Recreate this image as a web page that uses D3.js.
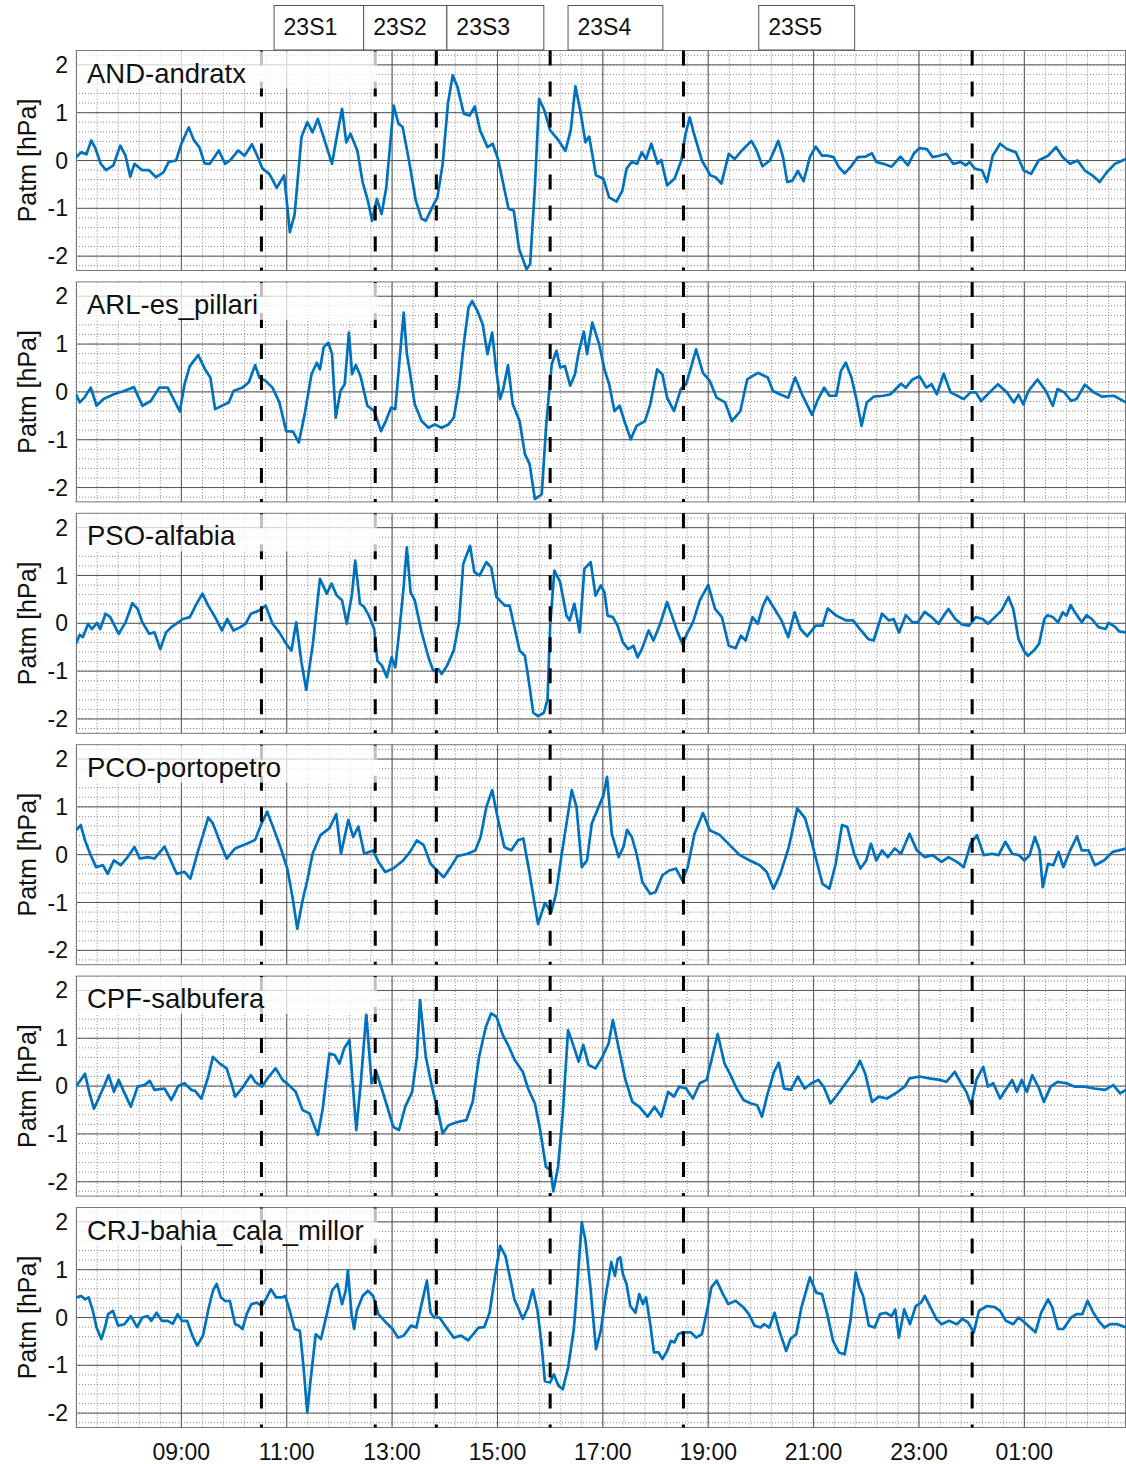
<!DOCTYPE html>
<html>
<head>
<meta charset="utf-8">
<script src="https://cdnjs.cloudflare.com/ajax/libs/d3/7.8.5/d3.min.js"></script>
<style>
	body { margin: 0; background: #fff; }
	text { font-family: 'Liberation Sans', Arial, sans-serif; fill: #111; }
</style>
</head>
<body>
<div id="chart"></div>
<script>
// station names, one panel each
var stations = ['AND-andratx', 'ARL-es_pillari', 'PSO-alfabia', 'PCO-portopetro', 'CPF-salbufera', 'CRJ-bahia_cala_millor'];

// [hour of day (24+ = next day), Patm anomaly hPa]
var andratx = [[7.0,0.07],[7.1,0.17],[7.2,0.13],[7.29,0.42],[7.37,0.25],[7.47,-0.07],[7.57,-0.2],[7.71,-0.1],[7.84,0.31],[7.94,0.1],[8.03,-0.34],[8.11,-0.07],[8.25,-0.2],[8.38,-0.2],[8.52,-0.35],[8.66,-0.25],[8.76,-0.03],[8.9,0],[9.0,0.35],[9.14,0.69],[9.24,0.42],[9.34,0.28],[9.44,-0.06],[9.54,-0.07],[9.71,0.21],[9.83,-0.07],[9.93,0.01],[10.08,0.21],[10.2,0.1],[10.34,0.34],[10.44,0.1],[10.54,-0.17],[10.67,-0.28],[10.81,-0.57],[10.95,-0.31],[11.06,-1.5],[11.15,-1.12],[11.28,0.49],[11.39,0.8],[11.49,0.59],[11.59,0.87],[11.69,0.52],[11.86,-0.07],[11.96,0.56],[12.05,1.08],[12.13,0.38],[12.21,0.56],[12.34,0.21],[12.44,-0.45],[12.54,-0.84],[12.62,-1.26],[12.71,-0.8],[12.8,-1.12],[12.89,-0.56],[13.03,1.15],[13.12,0.77],[13.2,0.7],[13.32,0],[13.45,-0.84],[13.56,-1.22],[13.64,-1.26],[13.76,-0.98],[13.86,-0.77],[13.96,-0.07],[14.06,1.19],[14.15,1.78],[14.24,1.54],[14.36,0.98],[14.47,0.94],[14.57,1.13],[14.67,0.63],[14.81,0.28],[14.91,0.35],[15.01,0.03],[15.21,-1.01],[15.31,-1.05],[15.41,-1.85],[15.55,-2.27],[15.62,-2.17],[15.71,-0.56],[15.79,1.29],[15.89,1.05],[16.0,0.63],[16.16,0.42],[16.29,0.2],[16.39,0.63],[16.48,1.55],[16.57,1.05],[16.67,0.38],[16.74,0.5],[16.87,-0.31],[17.01,-0.38],[17.12,-0.77],[17.26,-0.86],[17.37,-0.63],[17.45,-0.17],[17.55,-0.03],[17.65,-0.07],[17.74,0.17],[17.82,0.03],[17.92,0.35],[18.04,-0.07],[18.11,0.01],[18.22,-0.52],[18.36,-0.38],[18.49,0],[18.57,0.56],[18.65,0.9],[18.73,0.56],[18.88,0],[19.04,-0.31],[19.14,-0.35],[19.25,-0.48],[19.39,0.14],[19.5,0.03],[19.64,0.21],[19.82,0.41],[19.92,0.21],[20.03,-0.12],[20.17,0],[20.33,0.41],[20.42,0.07],[20.5,-0.45],[20.6,-0.42],[20.7,-0.22],[20.81,-0.43],[20.93,0.07],[21.04,0.29],[21.16,0.1],[21.27,0.1],[21.38,0.07],[21.48,-0.14],[21.59,-0.27],[21.7,-0.14],[21.84,0.07],[21.98,0.08],[22.11,0.15],[22.19,-0.03],[22.33,-0.07],[22.48,-0.13],[22.65,0.08],[22.79,-0.1],[22.9,0.14],[23.01,0.26],[23.15,0.24],[23.26,0.07],[23.38,0.1],[23.52,0.14],[23.65,-0.07],[23.79,-0.03],[23.89,-0.1],[23.96,-0.03],[24.06,-0.17],[24.2,-0.21],[24.29,-0.45],[24.4,0.1],[24.54,0.35],[24.67,0.24],[24.84,0.17],[24.99,-0.21],[25.13,-0.28],[25.27,0],[25.45,0.1],[25.6,0.28],[25.73,0.07],[25.87,-0.07],[26.01,0],[26.15,-0.21],[26.29,-0.31],[26.43,-0.45],[26.57,-0.24],[26.72,-0.07],[26.93,0.03]];

var pillari = [[7.0,-0.05],[7.07,-0.22],[7.16,-0.12],[7.28,0.09],[7.39,-0.29],[7.52,-0.15],[7.72,-0.05],[7.91,0.02],[8.1,0.1],[8.26,-0.29],[8.42,-0.19],[8.58,0.09],[8.74,0.09],[8.87,-0.19],[8.97,-0.41],[9.06,0.16],[9.16,0.54],[9.32,0.77],[9.45,0.47],[9.55,0.3],[9.64,-0.36],[9.77,-0.29],[9.9,-0.22],[9.99,0.02],[10.16,0.09],[10.28,0.2],[10.4,0.56],[10.48,0.3],[10.6,0.23],[10.73,0.09],[10.86,-0.22],[10.99,-0.82],[11.12,-0.83],[11.23,-1.06],[11.34,-0.47],[11.47,0.37],[11.57,0.61],[11.63,0.47],[11.7,0.93],[11.79,1.03],[11.86,0.79],[11.93,-0.54],[12.02,0.02],[12.1,0.16],[12.18,1.24],[12.24,0.37],[12.31,0.56],[12.4,0.33],[12.53,-0.29],[12.66,-0.4],[12.79,-0.82],[12.88,-0.61],[12.98,-0.33],[13.06,-0.36],[13.14,0.65],[13.22,1.66],[13.28,0.79],[13.33,0.47],[13.43,-0.26],[13.56,-0.61],[13.69,-0.75],[13.81,-0.68],[13.94,-0.75],[14.07,-0.68],[14.17,-0.54],[14.27,0.09],[14.36,1.0],[14.45,1.76],[14.52,1.9],[14.62,1.69],[14.72,1.41],[14.81,0.79],[14.9,1.24],[14.97,0.51],[15.05,-0.15],[15.11,0.06],[15.2,0.56],[15.29,-0.26],[15.42,-0.61],[15.52,-1.3],[15.61,-1.51],[15.71,-2.24],[15.84,-2.14],[15.93,-0.61],[16.03,0.58],[16.12,0.86],[16.19,0.51],[16.28,0.54],[16.38,0.13],[16.47,0.37],[16.54,0.82],[16.64,1.26],[16.7,0.79],[16.8,1.45],[16.93,1.0],[17.03,0.47],[17.12,0.16],[17.22,-0.4],[17.32,-0.29],[17.41,-0.61],[17.53,-0.99],[17.64,-0.71],[17.8,-0.61],[17.9,-0.26],[18.03,0.47],[18.13,0.37],[18.22,-0.12],[18.35,-0.4],[18.48,0.06],[18.58,0.16],[18.68,0.54],[18.77,0.89],[18.9,0.4],[19.03,0.23],[19.16,-0.12],[19.32,-0.22],[19.45,-0.61],[19.61,-0.4],[19.74,0.26],[19.94,0.4],[20.13,0.3],[20.23,0.02],[20.36,-0.05],[20.52,-0.12],[20.65,0.3],[20.78,-0.05],[20.97,-0.48],[21.07,-0.19],[21.2,0.09],[21.3,-0.08],[21.43,-0.08],[21.52,0.44],[21.61,0.61],[21.72,0.3],[21.82,-0.19],[21.91,-0.71],[22.01,-0.22],[22.14,-0.1],[22.33,-0.08],[22.46,-0.05],[22.66,0.17],[22.75,0.09],[22.88,0.26],[23.01,0.33],[23.14,0.09],[23.24,0.16],[23.34,-0.05],[23.47,0.38],[23.6,-0.01],[23.73,-0.08],[23.85,-0.15],[23.98,-0.01],[24.08,-0.01],[24.18,-0.19],[24.34,-0.01],[24.5,0.16],[24.67,-0.01],[24.8,-0.22],[24.89,-0.06],[24.98,-0.26],[25.08,0.02],[25.25,0.26],[25.41,0.02],[25.54,-0.29],[25.63,0.06],[25.76,-0.01],[25.89,-0.19],[25.99,-0.15],[26.15,0.15],[26.32,-0.01],[26.48,-0.1],[26.7,-0.08],[26.93,-0.22]];

var alfabia = [[7.0,-0.43],[7.07,-0.24],[7.13,-0.29],[7.23,-0.01],[7.3,-0.12],[7.4,0.01],[7.46,-0.12],[7.56,0.2],[7.65,0.13],[7.81,-0.22],[7.94,0.02],[8.07,0.42],[8.17,0.3],[8.26,0.02],[8.39,-0.22],[8.49,-0.19],[8.6,-0.54],[8.71,-0.19],[8.81,-0.08],[8.9,-0.01],[9.03,0.09],[9.16,0.13],[9.29,0.41],[9.4,0.62],[9.51,0.37],[9.64,0.13],[9.77,-0.15],[9.87,0.09],[9.99,-0.15],[10.12,-0.08],[10.22,-0.01],[10.32,0.2],[10.48,0.27],[10.6,0.37],[10.73,-0.01],[10.86,-0.19],[10.99,-0.43],[11.09,-0.57],[11.18,0.02],[11.28,-0.82],[11.37,-1.39],[11.5,-0.4],[11.63,0.93],[11.76,0.62],[11.85,0.83],[11.95,0.58],[12.05,0.48],[12.14,-0.01],[12.24,0.62],[12.3,1.31],[12.39,0.41],[12.47,0.34],[12.56,0.16],[12.66,-0.12],[12.72,-0.78],[12.81,-0.89],[12.9,-1.13],[12.99,-0.71],[13.06,-0.92],[13.14,-0.12],[13.21,0.65],[13.28,1.59],[13.35,0.65],[13.43,0.48],[13.56,-0.19],[13.69,-0.71],[13.78,-0.99],[13.88,-0.96],[13.94,-1.06],[14.04,-0.89],[14.17,-0.57],[14.27,0.02],[14.35,1.24],[14.48,1.62],[14.56,1.07],[14.66,1.0],[14.79,1.28],[14.88,1.17],[14.98,0.55],[15.14,0.37],[15.23,0.37],[15.33,-0.12],[15.42,-0.57],[15.52,-0.68],[15.58,-1.1],[15.68,-1.87],[15.77,-1.94],[15.88,-1.87],[15.95,-1.59],[16.0,-0.05],[16.08,1.1],[16.19,0.86],[16.31,0.16],[16.37,0.06],[16.46,0.41],[16.56,-0.19],[16.65,1.14],[16.77,1.28],[16.86,0.58],[16.96,0.79],[17.03,0.65],[17.09,0.16],[17.19,0.13],[17.28,-0.05],[17.38,-0.4],[17.48,-0.54],[17.58,-0.47],[17.66,-0.71],[17.74,-0.54],[17.87,-0.15],[17.96,-0.36],[18.09,-0.01],[18.22,0.44],[18.32,0.13],[18.42,-0.19],[18.51,-0.43],[18.61,-0.19],[18.71,0.02],[18.84,0.48],[19.0,0.8],[19.13,0.3],[19.26,0.13],[19.39,-0.47],[19.52,-0.52],[19.62,-0.26],[19.71,-0.36],[19.84,0.13],[19.94,-0.01],[20.04,0.37],[20.12,0.55],[20.26,0.3],[20.39,0.06],[20.52,-0.29],[20.64,0.23],[20.75,-0.12],[20.88,-0.27],[21.04,-0.05],[21.17,-0.05],[21.27,0.31],[21.43,0.16],[21.62,0.06],[21.75,0.06],[21.88,-0.12],[22.04,-0.33],[22.14,-0.36],[22.3,0.2],[22.43,0.06],[22.52,0.09],[22.62,-0.19],[22.75,0.17],[22.88,0.02],[22.98,0.02],[23.11,0.24],[23.24,0.13],[23.37,-0.01],[23.47,0.16],[23.56,0.3],[23.69,0.09],[23.82,-0.03],[23.95,-0.05],[24.08,0.13],[24.21,0.09],[24.31,-0.01],[24.47,0.16],[24.57,0.27],[24.7,0.55],[24.79,0.3],[24.89,-0.33],[24.99,-0.57],[25.07,-0.68],[25.18,-0.57],[25.28,-0.43],[25.38,0.09],[25.44,0.17],[25.54,0.13],[25.64,0.02],[25.73,0.23],[25.8,0.16],[25.88,0.38],[25.96,0.23],[26.09,0.02],[26.18,0.17],[26.28,0.09],[26.41,-0.08],[26.54,-0.12],[26.6,0.01],[26.73,-0.08],[26.8,-0.17],[26.93,-0.19]];

var portopetro = [[7.0,0.51],[7.09,0.62],[7.17,0.3],[7.28,-0.01],[7.38,-0.26],[7.51,-0.22],[7.6,-0.4],[7.72,-0.12],[7.85,-0.22],[7.98,-0.05],[8.11,0.16],[8.21,-0.08],[8.36,-0.05],[8.49,-0.08],[8.68,0.17],[8.81,-0.15],[8.91,-0.4],[9.06,-0.36],[9.17,-0.5],[9.32,0.09],[9.41,0.41],[9.51,0.78],[9.6,0.65],[9.73,0.27],[9.86,-0.08],[10.02,0.13],[10.24,0.23],[10.4,0.31],[10.51,0.62],[10.63,0.9],[10.75,0.55],[10.88,0.16],[11.01,-0.29],[11.11,-0.89],[11.2,-1.55],[11.3,-0.96],[11.39,-0.54],[11.49,0.02],[11.64,0.41],[11.81,0.55],[11.94,0.85],[12.03,0.02],[12.17,0.73],[12.26,0.37],[12.36,0.59],[12.47,0.02],[12.64,0.09],[12.74,-0.15],[12.87,-0.36],[13.02,-0.29],[13.21,-0.12],[13.34,0.06],[13.47,0.3],[13.6,0.2],[13.73,-0.19],[13.85,-0.33],[13.98,-0.47],[14.11,-0.26],[14.24,-0.03],[14.43,0.02],[14.58,0.09],[14.68,0.37],[14.79,1.0],[14.9,1.35],[15.0,0.79],[15.13,0.16],[15.26,0.09],[15.39,0.3],[15.49,0.34],[15.6,-0.33],[15.71,-1.06],[15.77,-1.45],[15.9,-1.01],[16.02,-1.2],[16.11,-0.82],[16.22,0.02],[16.31,0.65],[16.41,1.35],[16.5,1.0],[16.6,-0.26],[16.7,-0.12],[16.79,0.65],[16.92,1.0],[17.01,1.24],[17.08,1.63],[17.17,0.44],[17.3,-0.05],[17.39,0.16],[17.46,0.52],[17.55,0.37],[17.64,0.02],[17.75,-0.57],[17.9,-0.82],[18.0,-0.78],[18.13,-0.43],[18.26,-0.33],[18.39,-0.29],[18.51,-0.54],[18.61,-0.26],[18.74,0.44],[18.9,0.87],[19.03,0.51],[19.22,0.41],[19.41,0.2],[19.6,-0.01],[19.79,-0.12],[19.98,-0.22],[20.11,-0.36],[20.24,-0.71],[20.37,-0.4],[20.53,0.16],[20.69,0.97],[20.84,0.76],[20.94,0.37],[21.07,-0.19],[21.17,-0.61],[21.3,-0.71],[21.42,-0.19],[21.54,0.62],[21.64,0.58],[21.77,0.02],[21.89,-0.29],[22.0,-0.12],[22.09,0.23],[22.19,-0.12],[22.3,0.09],[22.41,-0.05],[22.54,0.13],[22.66,0.02],[22.82,0.44],[22.96,0.09],[23.11,-0.05],[23.26,-0.01],[23.43,-0.15],[23.56,-0.05],[23.72,-0.15],[23.85,-0.26],[23.98,0.23],[24.1,0.41],[24.23,-0.01],[24.39,0.02],[24.51,-0.01],[24.64,0.27],[24.77,0.02],[24.9,-0.01],[25.0,-0.12],[25.1,-0.01],[25.2,0.37],[25.29,0.09],[25.35,-0.68],[25.45,-0.19],[25.55,-0.22],[25.65,0.06],[25.74,-0.26],[25.87,0.09],[26.0,0.38],[26.09,0.09],[26.22,0.09],[26.34,-0.22],[26.51,-0.12],[26.68,0.06],[26.93,0.13]];

var salbufera = [[7.0,-0.01],[7.09,0.13],[7.17,0.26],[7.25,-0.12],[7.34,-0.47],[7.43,-0.26],[7.53,-0.01],[7.62,0.23],[7.72,-0.12],[7.81,0.13],[7.91,-0.12],[8.04,-0.43],[8.17,-0.01],[8.3,0.02],[8.4,0.11],[8.49,-0.08],[8.68,-0.05],[8.81,-0.29],[8.94,0],[9.06,0.06],[9.19,-0.08],[9.26,-0.1],[9.38,-0.26],[9.51,0.2],[9.6,0.61],[9.73,0.47],[9.86,0.37],[9.96,0.02],[10.02,-0.22],[10.15,-0.05],[10.32,0.23],[10.4,0.09],[10.53,-0.01],[10.66,0.2],[10.79,0.37],[10.92,0.13],[11.04,0.02],[11.17,-0.12],[11.3,-0.5],[11.43,-0.57],[11.59,-1.02],[11.68,-0.5],[11.81,0.68],[11.91,0.65],[12.0,0.47],[12.09,0.79],[12.19,0.96],[12.32,-0.92],[12.41,0.13],[12.51,1.52],[12.61,0.06],[12.7,0.3],[12.81,-0.08],[12.9,-0.4],[13.02,-0.85],[13.13,-0.92],[13.25,-0.43],[13.38,-0.12],[13.47,0.61],[13.53,1.8],[13.64,0.61],[13.77,-0.08],[13.86,-0.47],[13.96,-0.99],[14.07,-0.82],[14.24,-0.75],[14.41,-0.71],[14.53,-0.33],[14.65,0.61],[14.78,1.24],[14.88,1.52],[14.98,1.45],[15.1,1.07],[15.2,0.86],[15.33,0.54],[15.48,0.3],[15.58,-0.05],[15.71,-0.36],[15.81,-0.92],[15.92,-1.69],[16.01,-1.76],[16.06,-2.2],[16.15,-1.69],[16.24,-0.57],[16.34,1.17],[16.45,0.82],[16.54,0.51],[16.63,0.86],[16.73,0.44],[16.86,0.37],[16.99,0.61],[17.11,0.89],[17.19,1.38],[17.31,0.75],[17.43,0.13],[17.56,-0.33],[17.69,-0.43],[17.85,-0.64],[17.98,-0.43],[18.11,-0.64],[18.24,-0.12],[18.35,-0.22],[18.45,-0.01],[18.58,-0.05],[18.71,-0.26],[18.84,0.06],[18.97,0.13],[19.07,0.58],[19.18,1.09],[19.31,0.47],[19.41,0.26],[19.54,-0.05],[19.67,-0.29],[19.8,-0.36],[19.93,-0.4],[20.02,-0.64],[20.12,-0.19],[20.25,0.3],[20.34,0.49],[20.44,-0.05],[20.57,-0.08],[20.7,0.2],[20.83,-0.05],[20.96,0.06],[21.09,0.13],[21.19,-0.01],[21.32,-0.36],[21.47,-0.15],[21.63,0.09],[21.79,0.33],[21.88,0.53],[21.98,0.26],[22.11,-0.33],[22.24,-0.22],[22.39,-0.26],[22.56,-0.15],[22.73,-0.01],[22.82,0.16],[23.01,0.2],[23.2,0.16],[23.39,0.13],[23.52,0.09],[23.68,0.3],[23.8,0.06],[23.9,-0.12],[23.99,-0.4],[24.09,0.13],[24.22,0.4],[24.31,-0.01],[24.41,0.06],[24.54,-0.26],[24.66,-0.05],[24.77,0.13],[24.86,-0.12],[24.95,0.13],[25.05,-0.12],[25.15,0.23],[25.28,-0.05],[25.37,-0.33],[25.5,-0.01],[25.63,0.09],[25.8,0.06],[25.95,-0.01],[26.14,-0.01],[26.33,-0.05],[26.53,-0.08],[26.69,0.02],[26.82,-0.15],[26.93,-0.08]];

var calaMillor = [[7.0,0.42],[7.1,0.45],[7.17,0.38],[7.24,0.42],[7.32,0.14],[7.39,-0.21],[7.48,-0.45],[7.55,-0.21],[7.61,0.07],[7.7,0.14],[7.8,-0.17],[7.92,-0.14],[8.04,0.03],[8.16,-0.2],[8.26,0],[8.36,0.03],[8.43,-0.07],[8.53,0.1],[8.63,-0.07],[8.74,-0.07],[8.84,-0.13],[8.93,0.07],[9.01,-0.07],[9.11,-0.07],[9.21,-0.38],[9.3,-0.59],[9.41,-0.38],[9.52,0.21],[9.6,0.56],[9.67,0.7],[9.75,0.42],[9.84,0.34],[9.92,0.35],[10.02,-0.14],[10.09,-0.17],[10.16,-0.24],[10.24,0.07],[10.33,0.28],[10.43,0.31],[10.53,0.24],[10.6,0.38],[10.7,0.59],[10.8,0.42],[10.9,0.42],[10.97,0.45],[11.04,0.21],[11.15,-0.24],[11.25,-0.28],[11.32,-1.05],[11.39,-1.99],[11.45,-1.33],[11.55,-0.35],[11.65,-0.45],[11.76,0.07],[11.86,0.56],[11.96,0.7],[12.05,0.28],[12.12,0.56],[12.16,0.98],[12.23,0.07],[12.28,-0.24],[12.33,0.14],[12.44,0.45],[12.54,0.56],[12.64,0.45],[12.74,0.07],[12.88,-0.1],[13.01,-0.24],[13.11,-0.42],[13.22,-0.38],[13.36,-0.17],[13.46,-0.21],[13.56,0.28],[13.66,0.77],[13.73,0.1],[13.8,0],[13.9,0],[14.03,-0.21],[14.17,-0.42],[14.31,-0.38],[14.44,-0.48],[14.54,-0.35],[14.64,-0.21],[14.75,-0.2],[14.85,0.1],[14.95,0.84],[15.05,1.5],[15.15,1.29],[15.25,0.77],[15.32,0.38],[15.39,0.21],[15.48,-0.03],[15.58,0.21],[15.67,0.59],[15.76,0.14],[15.83,-0.49],[15.9,-1.33],[16.0,-1.36],[16.07,-1.19],[16.16,-1.43],[16.24,-1.5],[16.34,-1.05],[16.45,-0.24],[16.52,0.77],[16.6,1.99],[16.67,1.61],[16.77,0.56],[16.87,-0.66],[16.96,-0.28],[17.05,0.42],[17.16,1.16],[17.23,0.87],[17.28,1.22],[17.33,1.26],[17.38,0.91],[17.45,0.7],[17.52,0.24],[17.62,0.1],[17.69,0.49],[17.76,0.28],[17.82,0.42],[17.9,-0.14],[17.97,-0.73],[18.06,-0.73],[18.13,-0.87],[18.22,-0.7],[18.29,-0.49],[18.36,-0.52],[18.43,-0.35],[18.52,-0.31],[18.67,-0.31],[18.77,-0.42],[18.88,-0.35],[18.99,0.21],[19.06,0.63],[19.16,0.77],[19.28,0.49],[19.38,0.28],[19.52,0.35],[19.67,0.21],[19.77,0.07],[19.88,-0.17],[19.99,-0.21],[20.06,-0.14],[20.16,-0.21],[20.26,0.1],[20.35,-0.28],[20.48,-0.7],[20.56,-0.45],[20.67,-0.35],[20.77,0.21],[20.93,0.84],[21.05,0.52],[21.16,0.49],[21.26,0.07],[21.37,-0.49],[21.48,-0.73],[21.59,-0.77],[21.7,-0.07],[21.8,0.94],[21.87,0.63],[21.94,0.45],[22.05,-0.17],[22.16,-0.21],[22.26,0.07],[22.37,0.1],[22.48,0.03],[22.55,0.17],[22.62,-0.42],[22.72,0.17],[22.83,-0.14],[22.94,0.24],[23.04,0.31],[23.11,0.45],[23.22,0.21],[23.33,-0.03],[23.43,-0.14],[23.57,-0.07],[23.72,-0.14],[23.82,-0.03],[23.93,-0.1],[24.04,-0.31],[24.14,0.14],[24.29,0.24],[24.43,0.22],[24.54,0.14],[24.65,-0.07],[24.79,-0.14],[24.89,0],[25.0,-0.1],[25.11,-0.21],[25.21,-0.31],[25.32,0.1],[25.45,0.38],[25.53,0.21],[25.64,-0.24],[25.74,-0.24],[25.89,0],[25.99,0.07],[26.1,0.07],[26.2,0.35],[26.31,0.1],[26.41,-0.07],[26.52,-0.21],[26.63,-0.14],[26.77,-0.14],[26.93,-0.21]];

var series = [andratx, pillari, alfabia, portopetro, salbufera, calaMillor];

// event markers (dashed lines) and the labelled boxes above the first panel
var eventTimes = [10.52, 12.68, 13.84, 16.0, 18.53, 24.01];
var eventNames = ['23S1', '23S2', '23S3', '23S4', '23S5'];
var eventBoxStart = [10.75, 12.45, 14.03, 16.33, 19.95];
var eventBoxEnd = [12.45, 14.03, 15.87, 18.13, 21.77];

var yTicks = [-2, -1, 0, 1, 2];
var xTicks = [9, 11, 13, 15, 17, 19, 21, 23, 25];

var width = 1126, height = 1464;
var left = 76, right = 1126;
var firstTop = 50.5, panelH = 220, step = 231.4;

var svg = d3.select('#chart').append('svg')
	.attr('width', width)
	.attr('height', height);

var x = d3.scaleLinear().domain([7, 26.93]).range([left, right]);
var y = d3.scaleLinear().domain([-2.3, 2.3]).range([panelH, 0]);

var minorX = d3.range(0, 50).map(function(i) { return 7 + i * 0.4; });
var minorY = d3.range(-11, 12).map(function(i) { return i * 0.2; });

var line = d3.line()
	.x(function(d) { return x(d[0]); })
	.y(function(d) { return y(d[1]); });

stations.forEach(function(name, k) {
	var top = firstTop + step * k;
	var g = svg.append('g').attr('transform', 'translate(0,' + top + ')');

	g.append('clipPath').attr('id', 'clip' + k)
		.append('rect')
		.attr('x', left).attr('y', 0)
		.attr('width', right - left).attr('height', panelH);

	// minor grid
	g.selectAll('.mx').data(minorX).enter().append('line')
		.attr('x1', function(d) { return x(d); }).attr('x2', function(d) { return x(d); })
		.attr('y1', 0).attr('y2', panelH)
		.attr('stroke', '#888').attr('stroke-width', 1)
		.attr('stroke-dasharray', '1,2');
	g.selectAll('.my').data(minorY).enter().append('line')
		.attr('x1', left).attr('x2', right)
		.attr('y1', function(d) { return y(d); }).attr('y2', function(d) { return y(d); })
		.attr('stroke', '#888').attr('stroke-width', 1)
		.attr('stroke-dasharray', '1,2');

	// major grid
	g.selectAll('.gx').data(xTicks).enter().append('line')
		.attr('x1', function(d) { return x(d); }).attr('x2', function(d) { return x(d); })
		.attr('y1', 0).attr('y2', panelH)
		.attr('stroke', '#555').attr('stroke-width', 1);
	g.selectAll('.gy').data(yTicks).enter().append('line')
		.attr('x1', left).attr('x2', right)
		.attr('y1', function(d) { return y(d); }).attr('y2', function(d) { return y(d); })
		.attr('stroke', '#555').attr('stroke-width', 1);

	// frame
	g.append('rect')
		.attr('x', left + 0.5).attr('y', 0)
		.attr('width', right - left - 1).attr('height', panelH)
		.attr('fill', 'none')
		.attr('stroke', '#777').attr('stroke-width', 1);

	// data
	g.append('path')
		.datum(series[k])
		.attr('clip-path', 'url(#clip' + k + ')')
		.attr('d', line)
		.attr('fill', 'none')
		.attr('stroke', '#0072BD')
		.attr('stroke-width', 2.7)
		.attr('stroke-linejoin', 'round');

	// event lines
	g.selectAll('.ev').data(eventTimes).enter().append('line')
		.attr('x1', function(d) { return x(d); }).attr('x2', function(d) { return x(d); })
		.attr('y1', 0).attr('y2', panelH)
		.attr('stroke', '#000').attr('stroke-width', 3)
		.attr('stroke-dasharray', '15,16');

	// station label with half transparent background
	g.append('rect')
		.attr('x', left + 1).attr('y', 1)
		.attr('width', 300).attr('height', 37)
		.attr('fill', '#fff')
		.attr('opacity', 0.75);
	g.append('text')
		.attr('x', left + 11).attr('y', 32)
		.style('font-size', '27.5px')
		.text(name);

	// y axis
	g.selectAll('.yt').data(yTicks).enter().append('text')
		.attr('x', left - 8)
		.attr('y', function(d) { return y(d); })
		.attr('dy', '0.35em')
		.attr('text-anchor', 'end')
		.style('font-size', '23px')
		.text(function(d) { return d; });

	g.append('text')
		.attr('transform', 'translate(36,' + (panelH / 2) + ') rotate(-90)')
		.attr('text-anchor', 'middle')
		.style('font-size', '25px')
		.text('Patm [hPa]');

	// time labels on the last panel only
	if (k == stations.length - 1) {
		g.selectAll('.xt').data(xTicks).enter().append('text')
			.attr('x', function(d) { return x(d); })
			.attr('y', panelH + 32)
			.attr('text-anchor', 'middle')
			.style('font-size', '23px')
			.text(function(d) { return d3.format('02')(d % 24) + ':00'; });
	}
});

// event boxes
var boxes = svg.selectAll('.box').data(eventNames).enter().append('g');
boxes.append('rect')
	.attr('x', function(d, i) { return x(eventBoxStart[i]) + 0.5; })
	.attr('y', 5.5)
	.attr('width', function(d, i) { return x(eventBoxEnd[i]) - x(eventBoxStart[i]); })
	.attr('height', 44.5)
	.attr('fill', '#fff')
	.attr('stroke', '#555')
	.attr('stroke-width', 1);
boxes.append('text')
	.attr('x', function(d, i) { return x(eventBoxStart[i]) + 10; })
	.attr('y', 35)
	.style('font-size', '23px')
	.text(function(d) { return d; });
</script>
</body>
</html>
